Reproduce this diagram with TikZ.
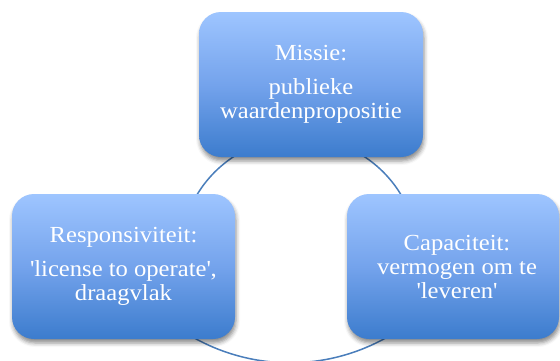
\documentclass[tikz,border=0pt]{standalone}
\usepackage{fontspec}
\setmainfont[FakeStretch=1.07]{Liberation Serif}
\usetikzlibrary{shadows.blur}
\definecolor{boxtop}{RGB}{158,197,255}
\definecolor{boxmid}{RGB}{116,163,236}
\definecolor{boxbot}{RGB}{60,124,205}
\definecolor{ringblue}{RGB}{74,126,187}
\begin{document}
\begin{tikzpicture}[x=1pt,y=-1pt,
  card/.style={rounded corners=22pt, top color=boxtop, bottom color=boxbot, middle color=boxmid,
    text=white, align=center, font=\fontsize{23}{24}\selectfont, inner sep=0pt,
    blur shadow={shadow xshift=1pt, shadow yshift=-4pt, shadow blur radius=4pt, shadow opacity=45}},
  ring/.style={draw=ringblue, line width=1.5pt}]
\useasboundingbox (0,0) rectangle (560,360);
\draw[ring] plot[domain=208.1:331.9, samples=80] ({299+119.1*cos(\x)},{256.2+119.1*sin(\x)})
  -- plot[domain=56.4:123.6, samples=60] ({290+196.8*cos(\x)},{166+196.8*sin(\x)}) -- cycle;
\node[card, minimum width=224pt, minimum height=145pt] (missie) at (311,84.5)
  {Missie:\\[10pt]publieke\\waardenpropositie};
\node[card, minimum width=223pt, minimum height=145pt] (resp) at (123.5,266.5)
  {Responsiviteit:\\[10pt]\textquotesingle license to operate\textquotesingle,\\draagvlak};
\node[card, minimum width=212pt, minimum height=145pt] (cap) at (453,266.5)
  {\hspace*{8pt}Capaciteit:\\\hspace*{8pt}vermogen om te\\\hspace*{8pt}\textquotesingle leveren\textquotesingle};
\end{tikzpicture}
\end{document}
